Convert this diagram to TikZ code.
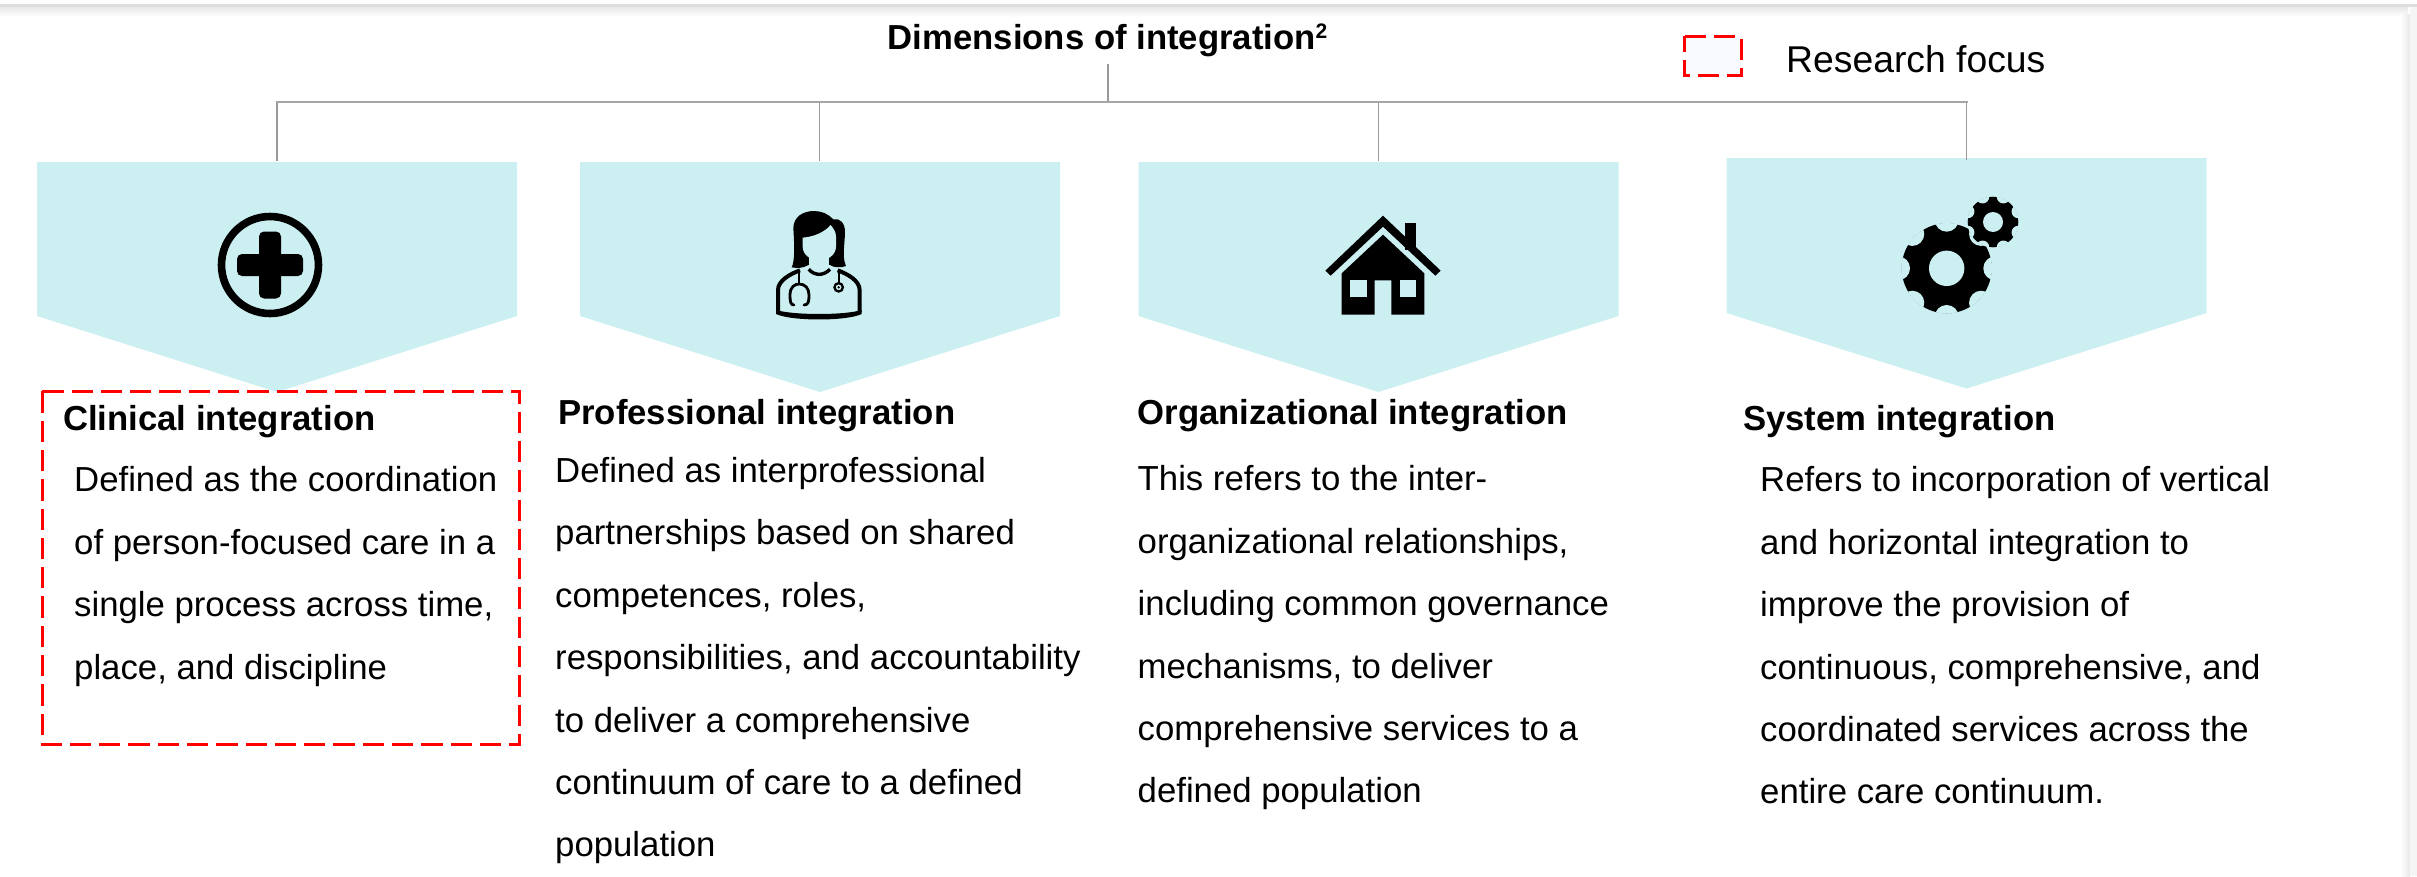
\documentclass[tikz,border=0pt]{standalone}
\usepackage{fontspec}
\setmainfont{Liberation Sans}
\definecolor{panel}{HTML}{CCF0F2}
\definecolor{rule}{HTML}{A6A6A6}
\definecolor{ruledark}{HTML}{999999}
\definecolor{focusred}{HTML}{FF0000}
\definecolor{focusfill}{HTML}{F8FAFE}
\tikzset{
  pent/.style={fill=panel,draw=none},
  branch/.style={draw=ruledark,line width=1.4pt},
  bus/.style={draw=rule,line width=2pt},
  head/.style={inner sep=0pt,anchor=base west,font=\bfseries\fontsize{34.7}{40}\selectfont,text=black},
  body/.style={inner sep=0pt,anchor=north west,align=left,font=\fontsize{34.75}{62.4}\selectfont,text=black},
  focusline/.style={draw=focusred,line width=3pt,dash pattern=on 21.3pt off 8pt,line cap=butt},
  frame/.style={inner sep=0pt,outer sep=0pt},
  icon/.style={x=0.3333pt,y=-0.3333pt}
}
\newcommand{\fl}{\rule{0pt}{30pt}}
\begin{document}
\begin{tikzpicture}[x=1pt,y=-1pt]
\useasboundingbox (0,0) rectangle (2417,876);
% page edge shadow
\fill[white] (0,0) rectangle (2417,876);
\fill[black!13] (0,4) rectangle (2417,7);
\shade[top color=black!9,bottom color=white] (0,7) rectangle (2408,17);
\shade[left color=white,right color=black!9] (2400,14) rectangle (2410,876);
\fill[white!96!black] (2410,7) rectangle (2417,876);
% panels
\fill[pent] (37,162) -- (517,162) -- (517,316) -- (277,392) -- (37,316) -- cycle;
\fill[pent] (580,162) -- (1060,162) -- (1060,316) -- (820,392) -- (580,316) -- cycle;
\fill[pent] (1138.5,162) -- (1618.5,162) -- (1618.5,316) -- (1378.5,392) -- (1138.5,316) -- cycle;
\fill[pent] (1726.5,158) -- (2206.5,158) -- (2206.5,313) -- (1966.5,388.5) -- (1726.5,313) -- cycle;
% title and connectors
\node[head] (title) at (887.5,49) {Dimensions of integration\raisebox{11pt}{\fontsize{21}{24}\selectfont 2}};
\coordinate (stemtop) at (1108,64);
\coordinate (busleft) at (275.5,102);
\coordinate (busright) at (1967.5,102);
\coordinate (stemfoot) at (1108,102);
\coordinate (b1) at (277,102);
\coordinate (b2) at (819.5,102);
\coordinate (b3) at (1378.5,102);
\coordinate (b4) at (1966.5,102);
\coordinate (t1) at (277,161);
\coordinate (t2) at (819.5,161);
\coordinate (t3) at (1378.5,161);
\coordinate (t4) at (1966.5,160);
\draw[branch] (stemtop) -- (stemfoot);
\draw[branch] (b1) -- (t1);
\draw[branch] (b2) -- (t2);
\draw[branch] (b3) -- (t3);
\draw[branch] (b4) -- (t4);
\draw[bus] (busleft) -- (busright);
% legend
\node[frame,fill=focusfill,minimum width=56.3pt,minimum height=39.2pt] (legendbox) at (1712.9,55.9) {};
\draw[focusline] (legendbox.north west) -- (legendbox.north east) -- (legendbox.south east) -- (legendbox.south west) -- cycle;
\node[inner sep=0pt,anchor=base west,font=\fontsize{37.3}{40}\selectfont] (legendtext) at (1786,72.5) {Research focus};
% focus box
\node[frame,minimum width=477.5pt,minimum height=353.7pt,anchor=north west] (focus) at (42.2,391) {};
\draw[focusline] (focus.north west) -- (focus.north east) -- (focus.south east) -- (focus.south west) -- cycle;
% texts
\node[head] (h1) at (63,430) {Clinical integration};
\node[body] (d1) at (74,461.7) {\fl Defined as the coordination\\of person-focused care in a\\single process across time,\\place, and discipline};
\node[head] (h2) at (558,424.5) {Professional integration};
\node[body] (d2) at (555,452.3) {\fl Defined as interprofessional\\partnerships based on shared\\competences, roles,\\responsibilities, and accountability\\to deliver a comprehensive\\continuum of care to a defined\\population};
\node[head] (h3) at (1137.5,424.5) {Organizational integration};
\node[body] (d3) at (1137.5,460.7) {\fl This refers to the inter-\\organizational relationships,\\including common governance\\mechanisms, to deliver\\comprehensive services to a\\defined population};
\node[head] (h4) at (1743,430) {System integration};
\node[body] (d4) at (1760,461.7) {\fl Refers to incorporation of vertical\\and horizontal integration to\\improve the provision of\\continuous, comprehensive, and\\coordinated services across the\\entire care continuum.};
% cross icon
\draw[black,line width=7.6pt] (270,265) circle (48.5pt);
\fill[black,rounded corners=5pt] (259,231.5) rectangle (281,298.5);
\fill[black,rounded corners=5pt] (237,254) rectangle (303,276);
% doctor icon
\begin{scope}[shift={(740,190)},icon]
\fill[black] (155,232) .. controls (165,215) and (163,160) .. (160,115)
  .. controls (160,80) and (190,63) .. (222,63)
  .. controls (245,63) and (265,72) .. (280,88)
  .. controls (300,83) and (315,100) .. (315,125)
  .. controls (315,160) and (305,200) .. (318,228)
  .. controls (300,235) and (280,232) .. (270,225)
  -- (205,225) .. controls (190,235) and (170,235) .. (155,232) -- cycle;
\fill[panel] (208,200) rectangle (268,240);
\fill[panel] (188,143) .. controls (225,140) and (255,125) .. (272,105)
  .. controls (280,115) and (288,125) .. (288,140) -- (288,170)
  .. controls (288,195) and (262,212) .. (238,212)
  .. controls (214,212) and (188,195) .. (188,170) -- cycle;
\draw[black,line width=3.4pt] (206,238) .. controls (225,258) and (250,258) .. (270,238);
\draw[black,line width=4pt] (114,366) -- (114,300) .. controls (114,272) and (150,252) .. (180,241);
\draw[black,line width=4pt] (359,366) -- (359,300) .. controls (359,272) and (323,252) .. (293,241);
\fill[black] (108,360) .. controls (160,376) and (315,376) .. (365,360) -- (365,372)
  .. controls (320,394) and (155,394) .. (108,372) -- cycle;
\draw[black,line width=2.2pt] (178,245) -- (178,282);
\draw[black,line width=2.8pt,line cap=round] (162,345) .. controls (152,345) and (150,335) .. (150,315)
  .. controls (150,290) and (165,282) .. (178,282)
  .. controls (195,282) and (207,295) .. (207,315)
  .. controls (207,335) and (205,345) .. (192,345);
\draw[black,line width=2.2pt] (296,245) -- (296,278);
\draw[black,line width=2.3pt] (296,292) circle (4.2pt);
\fill[black] (296,292) circle (1.3pt);
\end{scope}
% house icon
\begin{scope}[shift={(1300,200)},icon]
\fill[black] (316,70) rectangle (349,150);
\fill[black] (249,47) -- (422,212) -- (406,227) -- (249,80) -- (92,227) -- (76,212) -- cycle;
\fill[black] (249,104) -- (373,220) -- (373,344) -- (274,344) -- (274,241) -- (224,241) -- (224,344) -- (125,344) -- (125,220) -- cycle;
\fill[panel] (150,241) rectangle (200,290);
\fill[panel] (299,241) rectangle (349,290);
\end{scope}
% gears icon
\begin{scope}[shift={(1880,180)},icon]
\fill[black] (200,265) circle (45pt);
\begin{scope}
\clip (200,265) circle (45.3pt);
\foreach \a in {0,45,...,315} \fill[panel] (200,265) ++(\a:146) circle (12pt);
\end{scope}
\fill[panel] (200,265) circle (17.7pt);
\fill[black] (339,126) circle (25.3pt);
\begin{scope}
\clip (339,126) circle (25.6pt);
\foreach \a in {22.5,67.5,...,337.5} \fill[panel] (339,126) ++(\a:82) circle (6.7pt);
\end{scope}
\fill[panel] (339,126) circle (10pt);
\end{scope}
\end{tikzpicture}
\end{document}
